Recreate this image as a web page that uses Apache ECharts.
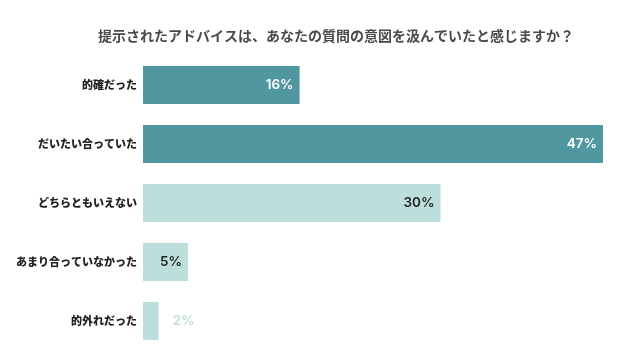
<!DOCTYPE html>
<html>
<head>
<meta charset="utf-8">
<script src="https://cdn.jsdelivr.net/npm/echarts@6/dist/echarts.min.js"></script>
<style>html,body{margin:0;padding:0;background:#fff;}#c{width:640px;height:362px;}</style>
</head>
<body>
<div id="c"></div>
<script>
const titleText = '提示されたアドバイスは、あなたの質問の意図を汲んでいたと感じますか？';
const categories = ['的確だった', 'だいたい合っていた', 'どちらともいえない', 'あまり合っていなかった', '的外れだった'];
const values = [16.0, 47.0, 30.4, 4.6, 1.6];
const valueLabels = ['16%', '47%', '30%', '5%', '2%'];

const DARK = '#5097a0', LIGHT = '#bcdfdc';
const barColors = [DARK, DARK, LIGHT, LIGHT, LIGHT];
const labelStyles = [
  {position: 'insideRight', color: '#ffffff'},
  {position: 'insideRight', color: '#ffffff'},
  {position: 'insideRight', color: '#222222'},
  {position: 'insideRight', color: '#222222'},
  {position: 'right', color: '#bfe0dd', distance: 14}
];

const chart = echarts.init(document.getElementById('c'), null, {renderer: 'canvas'});
chart.setOption({
  animation: false,
  title: {
    text: titleText,
    left: 93, top: 24,
    textStyle: {fontSize: 14, fontWeight: 'bold', color: '#4a4a4a', fontFamily: 'Noto Sans CJK JP'}
  },
  grid: {left: 143, right: 37, top: 55.5, bottom: 11.5},
  xAxis: {type: 'value', min: 0, max: 47, show: false},
  yAxis: {
    type: 'category', data: categories, inverse: true,
    axisLine: {show: false}, axisTick: {show: false},
    axisLabel: {margin: 6, fontSize: 11, fontWeight: 900, color: '#222', fontFamily: 'Noto Sans CJK JP'}
  },
  series: [{
    type: 'bar',
    barWidth: 38,
    data: values.map((v, i) => ({
      value: v,
      itemStyle: {color: barColors[i]},
      label: Object.assign({
        show: true, distance: 6, fontSize: 13.5, fontWeight: 600, fontFamily: 'Inter',
        formatter: () => valueLabels[i]
      }, labelStyles[i])
    }))
  }]
});
</script>
</body>
</html>
